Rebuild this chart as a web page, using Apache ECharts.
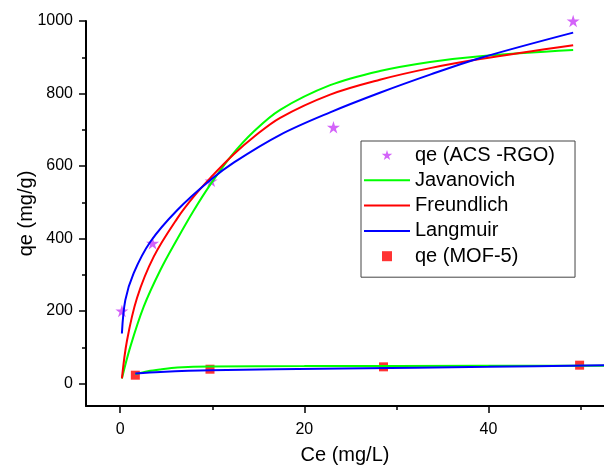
<!DOCTYPE html>
<html>
<head>
<meta charset="utf-8">
<script src="https://cdn.jsdelivr.net/npm/echarts@6/dist/echarts.min.js"></script>
<style>
html,body{margin:0;padding:0;background:#fff;}
#chart{width:604px;height:466px;}
</style>
</head>
<body>
<div id="chart"></div>
<script>
// ---- data ----
const xMajorTicks = [0, 20, 40];
const xMinorTicks = [10, 30, 50];
const yMajorTicks = [0, 200, 400, 600, 800, 1000];
const yMinorTicks = [100, 300, 500, 700, 900];

const seriesNames = ['qe (ACS -RGO)', 'Javanovich', 'Freundlich', 'Langmuir', 'qe (MOF-5)'];

// ACS-RGO experimental points [Ce, qe]
const acsPoints = [[0.18, 200], [3.51, 387], [9.88, 559], [23.16, 707], [49.2, 1000]];
// MOF-5 experimental points [Ce, qe]
const mofPoints = [[1.64, 23], [9.75, 39.5], [28.6, 46], [49.9, 50.6]];

// fitted curves for ACS-RGO
const javUpper = [[0.18, 14], [1.09, 101], [2.55, 212], [4.36, 313], [6.18, 398], [8.0, 478], [9.82, 550], [12.0, 626], [14.5, 695], [17.37, 755], [22.8, 823], [28.2, 862], [33.66, 887], [39.1, 903], [49.2, 920]];
const freUpper = [[0.18, 14], [0.73, 118], [1.82, 236], [3.64, 350], [6.18, 455], [8.0, 516], [9.82, 568], [12.36, 633], [14.5, 680], [17.37, 733], [22.8, 797], [28.2, 838], [33.66, 870], [39.1, 895], [49.2, 933]];
const lanUpper = [[0.18, 138], [0.55, 230], [1.45, 304], [3.27, 391], [6.18, 478], [9.82, 562], [12.36, 610], [17.37, 686], [22.8, 748], [28.2, 802], [33.66, 852], [39.1, 898], [49.2, 968]];

// fitted curves for MOF-5
const javLower = [[1.64, 26], [3.0, 34], [4.36, 39], [6.2, 44], [9.8, 47], [20, 48], [30, 48.5], [53, 49]];
const lanLower = [[1.64, 27.6], [4.36, 32], [9.8, 36.8], [24, 41.5], [40, 46], [53, 50.6]];

// ---- chart ----
const FONT = '"Liberation Sans", Arial, sans-serif';
const starPath = 'path://M50,0 L61,35 L98,35 L68,57 L79,91 L50,70 L21,91 L32,57 L2,35 L39,35 Z';
const squarePath = 'path://M0,0 L10,0 L10,10 L0,10 Z';
const lineIcon = 'path://M0,0 L46,0 L46,2 L0,2 Z';

const X_MIN = -3.72, X_MAX = 52.55, Y_MIN = -62, Y_MAX = 1000;
const gridPos = {left: 86, top: 21, right: 0, bottom: 60, containLabel: false, outerBoundsMode: 'none'};

const chart = echarts.init(document.getElementById('chart'), null, {renderer: 'canvas'});

function lineSeries(name, data, color) {
  return {
    type: 'line', name: name, data: data,
    xAxisIndex: 0, yAxisIndex: 0,
    showSymbol: false, symbol: 'none',
    smooth: 0.35,
    lineStyle: {color: color, width: 2},
    itemStyle: {color: color},
    z: 3, silent: true
  };
}

const fmt = v => String(v);

const option = {
  animation: false,
  backgroundColor: '#fff',
  grid: [
    Object.assign({}, gridPos),
    Object.assign({}, gridPos)
  ],
  xAxis: [
    {
      type: 'value', gridIndex: 0, min: X_MIN, max: X_MAX,
      name: 'Ce (mg/L)', nameLocation: 'middle', nameGap: 39, nameMoveOverlap: false,
      nameTextStyle: {fontFamily: FONT, fontSize: 20, color: '#000'},
      axisLine: {show: true, onZero: false, lineStyle: {color: '#000', width: 2}},
      axisTick: {show: true, inside: false, length: 7, customValues: xMajorTicks, lineStyle: {color: '#000', width: 1.5}},
      axisLabel: {show: true, margin: 16, customValues: xMajorTicks, formatter: fmt, fontFamily: FONT, fontSize: 16, color: '#000'},
      splitLine: {show: false}
    },
    {
      type: 'value', gridIndex: 1, min: X_MIN, max: X_MAX, position: 'bottom',
      axisLine: {show: false, onZero: false},
      axisTick: {show: true, inside: false, length: 4, customValues: xMinorTicks, lineStyle: {color: '#000', width: 1.5}},
      axisLabel: {show: false, customValues: xMinorTicks},
      splitLine: {show: false}
    }
  ],
  yAxis: [
    {
      type: 'value', gridIndex: 0, min: Y_MIN, max: Y_MAX,
      name: 'qe (mg/g)', nameLocation: 'middle', nameGap: 50, nameRotate: 90, nameMoveOverlap: false,
      nameTextStyle: {fontFamily: FONT, fontSize: 20, color: '#000'},
      axisLine: {show: true, onZero: false, lineStyle: {color: '#000', width: 2}},
      axisTick: {show: true, inside: false, length: 7, customValues: yMajorTicks, lineStyle: {color: '#000', width: 1.5}},
      axisLabel: {show: true, margin: 13, customValues: yMajorTicks, formatter: fmt, fontFamily: FONT, fontSize: 16, color: '#000'},
      splitLine: {show: false}
    },
    {
      type: 'value', gridIndex: 1, min: Y_MIN, max: Y_MAX, position: 'left',
      axisLine: {show: false, onZero: false},
      axisTick: {show: true, inside: false, length: 4, customValues: yMinorTicks, lineStyle: {color: '#000', width: 1.5}},
      axisLabel: {show: false, customValues: yMinorTicks},
      splitLine: {show: false}
    }
  ],
  legend: {
    orient: 'vertical',
    left: 361, top: 141,
    padding: [4, 20, 11, 3],
    itemWidth: 46, itemHeight: 10, itemGap: 5.3,
    borderColor: '#444', borderWidth: 1,
    backgroundColor: '#fff',
    textStyle: {fontFamily: FONT, fontSize: 20, color: '#000', lineHeight: 20, padding: [0, 0, 0, 0]},
    data: [
      {name: seriesNames[0]},
      {name: seriesNames[1], icon: lineIcon},
      {name: seriesNames[2], icon: lineIcon},
      {name: seriesNames[3], icon: lineIcon},
      {name: seriesNames[4]}
    ],
    selectedMode: false
  },
  series: [
    {
      type: 'scatter', name: seriesNames[0], data: acsPoints,
      xAxisIndex: 0, yAxisIndex: 0,
      symbol: starPath, symbolSize: 13, symbolKeepAspect: true,
      itemStyle: {color: '#C83CF8'}, z: 2, clip: false
    },
    lineSeries(seriesNames[1], javUpper, '#00FF00'),
    lineSeries(seriesNames[2], freUpper, '#FF0000'),
    lineSeries(seriesNames[3], lanUpper, '#0000FF'),
    {
      type: 'scatter', name: seriesNames[4], data: mofPoints,
      xAxisIndex: 0, yAxisIndex: 0,
      symbol: squarePath, symbolSize: 9, symbolKeepAspect: true,
      itemStyle: {color: '#FF0000'}, z: 2
    },
    lineSeries(seriesNames[1], javLower, '#00FF00'),
    lineSeries(seriesNames[3], lanLower, '#0000FF')
  ]
};
chart.setOption(option);
</script>
</body>
</html>
